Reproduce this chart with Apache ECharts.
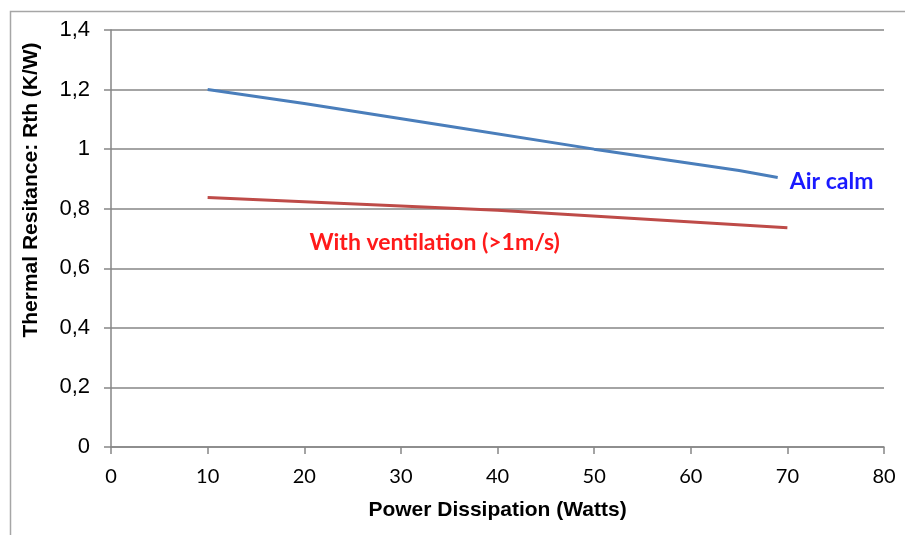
<!DOCTYPE html>
<html>
<head>
<meta charset="utf-8">
<script src="https://cdn.jsdelivr.net/npm/echarts@6/dist/echarts.min.js"></script>
<style>html,body{margin:0;padding:0;background:#fff;}#c{width:905px;height:535px;}</style>
</head>
<body>
<div id="c"></div>
<script>
var xTicks = [0, 10, 20, 30, 40, 50, 60, 70, 80];
var yTicks = [0, 0.2, 0.4, 0.6, 0.8, 1, 1.2, 1.4];
var airCalmX = [10, 20, 35, 50, 65, 69];
var airCalmY = [1.2, 1.153, 1.077, 1.0, 0.928, 0.905];
var ventX = [10, 40, 70];
var ventY = [0.838, 0.795, 0.736];
var ventLabelPos = [33.5, 0.686];
var yTitle = 'Thermal Resitance: Rth (K/W)';
var xTitle = 'Power Dissipation (Watts)';

function pairs(xs, ys) { return xs.map(function (x, i) { return [x, ys[i]]; }); }

var chart = echarts.init(document.getElementById('c'));
chart.setOption({
  animation: false,
  backgroundColor: '#ffffff',
  graphic: [{
    type: 'rect', left: 8, top: 9, shape: { width: 910, height: 540 },
    style: { fill: 'none', stroke: '#a6a6a6', lineWidth: 1.5 }, silent: true, z: -1
  }, {
    type: 'text', x: 31, y: 190, rotation: Math.PI / 2,
    style: {
      text: yTitle, align: 'center', verticalAlign: 'middle',
      fontFamily: 'Liberation Sans', fontWeight: 'bold', fontSize: 21, fill: '#000'
    }
  }],
  grid: { left: 111, right: 21, top: 30, bottom: 88 },
  xAxis: {
    type: 'value', min: 0, max: 80, interval: 10,
    name: xTitle, nameLocation: 'middle', nameGap: 53,
    nameTextStyle: { fontFamily: 'Liberation Sans', fontWeight: 'bold', fontSize: 21, color: '#000' },
    axisLine: { show: true, lineStyle: { color: '#868686', width: 1.5 } },
    axisTick: { show: true, length: 7, lineStyle: { color: '#868686', width: 1.5 } },
    axisLabel: { fontFamily: 'Lato', fontSize: 20, color: '#000', margin: 20 },
    splitLine: { show: false }
  },
  yAxis: {
    type: 'value', min: 0, max: 1.4, interval: 0.2,
    axisLine: { show: true, lineStyle: { color: '#868686', width: 1.5 } },
    axisTick: { show: true, length: 7, lineStyle: { color: '#868686', width: 1.5 } },
    axisLabel: {
      fontFamily: 'Liberation Sans', fontSize: 22, color: '#000', margin: 21,
      formatter: function (v) {
        return String(+v.toFixed(1)).replace('.', ',');
      }
    },
    splitLine: { show: true, lineStyle: { color: '#868686', width: 1.5 } }
  },
  series: [{
    name: 'Air calm', type: 'line', data: pairs(airCalmX, airCalmY),
    showSymbol: false, smooth: false,
    lineStyle: { color: '#4a7ebb', width: 3 },
    endLabel: {
      show: true, formatter: 'Air calm', distance: 12, offset: [0, 4],
      fontFamily: 'Lato', fontWeight: 'bold', fontSize: 23, color: '#1a1aff'
    }
  }, {
    name: 'With ventilation', type: 'line', data: pairs(ventX, ventY),
    showSymbol: false,
    lineStyle: { color: '#be4b48', width: 3 },
    markPoint: {
      symbol: 'circle', symbolSize: 0,
      data: [{ coord: ventLabelPos }],
      label: {
        show: true, position: 'inside', formatter: 'With ventilation (>1m/s)',
        fontFamily: 'Lato', fontWeight: 'bold', fontSize: 23, color: '#ff1a1a'
      }
    }
  }]
});
</script>
</body>
</html>
